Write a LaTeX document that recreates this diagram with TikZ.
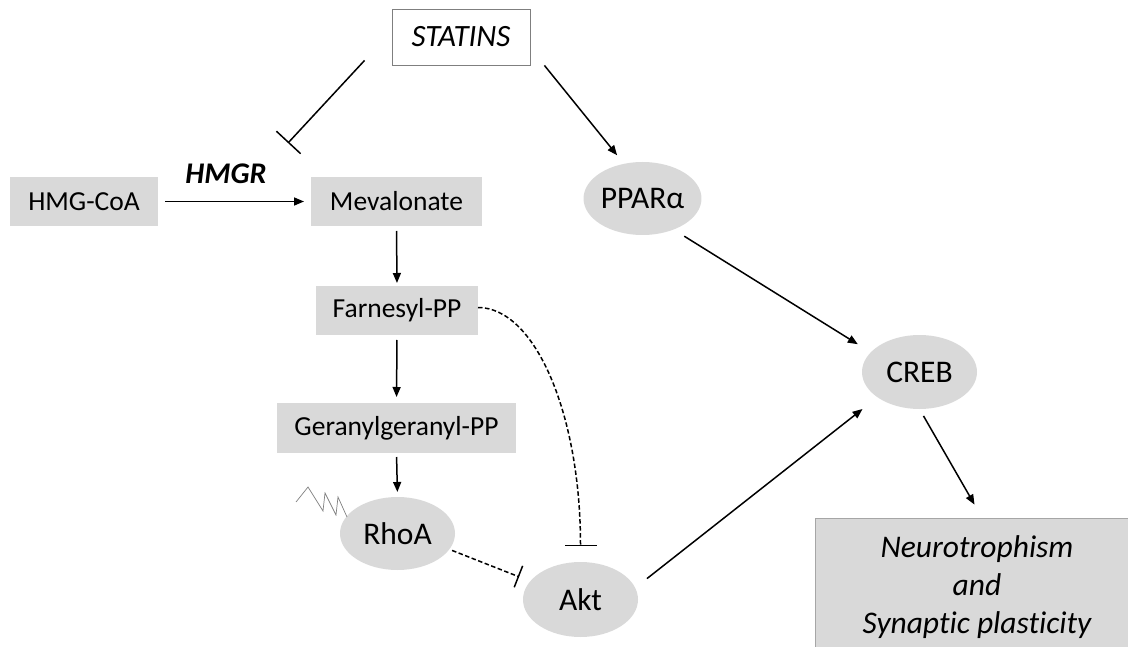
\documentclass[tikz,border=0pt]{standalone}
\usepackage{fontspec}
\setmainfont{Carlito}[Ligatures=NoCommon]
\usetikzlibrary{shapes.geometric,arrows.meta}
\definecolor{boxgray}{HTML}{D9D9D9}
\definecolor{linegray}{HTML}{7F7F7F}

\begin{document}
\begin{tikzpicture}[x=1pt, y=-1pt,
		box/.style={rectangle, fill=boxgray, inner sep=0pt, outer sep=0pt, minimum height=49pt, font=\fontsize{27.5}{32}\selectfont},
		blob/.style={ellipse, fill=boxgray, inner sep=0pt, outer sep=0pt, minimum width=115pt, minimum height=74pt, font=\fontsize{31.5}{36}\selectfont},
		act/.style={line width=1.5pt, -{Triangle[length=10pt,width=8pt]}},
		inh/.style={line width=1.5pt, -{Bar[width=#1,line width=1.5pt]}},
		dashinh/.style={inh=#1, dash pattern=on 4.5pt off 2.5pt}]
		% Page
		\useasboundingbox (0,0) rectangle (1128,647);
		\clip (0,0) rectangle (1128,647);
		
		% Nodes
		\node[draw=linegray, fill=white, line width=0.8pt, inner sep=0pt, minimum width=138pt, minimum height=56pt, font=\fontsize{31}{36}\selectfont\itshape] (statins) at (461,37) {STATINS};
		\node[box, minimum width=148pt] (hmgcoa) at (84,201.5) {HMG-CoA};
		\node[font=\fontsize{30}{34}\selectfont\bfseries\itshape] (hmgr) at (226,174) {HMGR};
		\node[box, minimum width=171pt] (mevalonate) at (396.5,201.5) {Mevalonate};
		\node[box, minimum width=162pt] (farnesyl) at (397,310.5) {Farnesyl-PP};
		\node[box, minimum width=239pt, minimum height=50pt] (geranyl) at (396.5,428) {Geranylgeranyl-PP};
		\node[blob, minimum height=73pt] (rhoa) at (397.5,533.5) {RhoA};
		\node[blob, minimum height=75pt] (akt) at (580.5,599.5) {Akt};
		\node[blob, minimum height=73pt] (ppar) at (642.5,198.5) {PPARα};
		\node[blob] (creb) at (919.5,372) {CREB};
		\node[draw=gray!70, fill=boxgray, line width=0.8pt, minimum width=324pt, minimum height=138pt, align=center, font=\fontsize{31.5}{38}\selectfont\itshape] (neuro) at (977,587) {Neurotrophism\\and\\Synaptic plasticity};
		
		% Zigzag on RhoA
		\draw[linegray, line width=0.7pt] (296,502) -- (308,487) -- (323,511) -- (325,493) -- (336,515) -- (338,497) -- (347,517);
		
		% Mevalonate pathway
		\draw[act, shorten <=7pt, shorten >=7pt] (hmgcoa) -- (mevalonate);
		\draw[act, shorten <=5pt, shorten >=3pt] (mevalonate.south) -- (farnesyl.north);
		\draw[act, shorten <=5pt, shorten >=6pt] (farnesyl.south) -- (geranyl.north);
		\draw[act, shorten <=4pt, shorten >=5pt] (geranyl.south) -- (rhoa.north);
		
		% Statins
		\coordinate (hmgrbar) at (288,143);
		\draw[inh=33pt] ([xshift=-27pt,yshift=5pt]statins.south west) -- (hmgrbar);
		\draw[act, shorten >=11pt] ([xshift=14pt]statins.south east) -- (ppar.118);
		
		% Towards CREB
		\draw[act, shorten <=12.6pt, shorten >=15.3pt] (ppar.-45) -- (creb.158);
		\draw[act, shorten <=15pt, shorten >=19pt] (akt.12) -- (creb.211);
		\draw[act, shorten <=8pt, shorten >=15pt] (creb.south) -- ([xshift=5pt]neuro.north);
		
		% Inhibition of Akt
		\draw[dashinh=32pt, shorten >=16pt] ([yshift=3pt]farnesyl.east) .. controls +(57,0) and +(0,-148) .. (akt.north);
		\draw[dashinh=23pt, shorten <=3pt, shorten >=12pt] (rhoa.-17) -- (akt.160);
	\end{tikzpicture}
\end{document}
